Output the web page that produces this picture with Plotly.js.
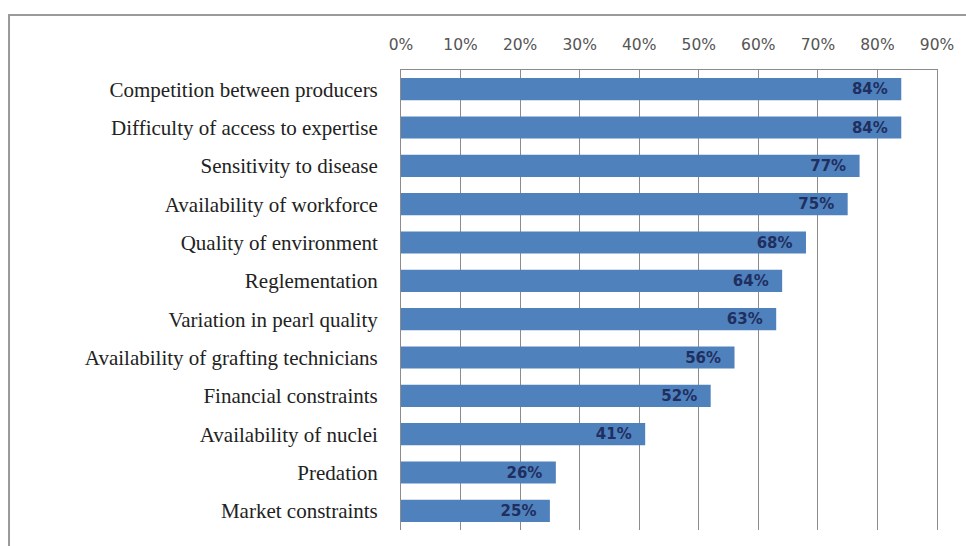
<!DOCTYPE html>
<html>
<head>
<meta charset="utf-8">
<script src="https://cdn.plot.ly/plotly-3.0.1.min.js"></script>
<style>
  html, body { margin: 0; padding: 0; background: #ffffff; }
  #chart { width: 966px; height: 546px; }
</style>
</head>
<body>
<div id="chart"></div>
<script>
const categories = [
  "Competition between producers",
  "Difficulty of access to expertise",
  "Sensitivity to disease",
  "Availability of workforce",
  "Quality of environment",
  "Reglementation",
  "Variation in pearl quality",
  "Availability of grafting technicians",
  "Financial constraints",
  "Availability of nuclei",
  "Predation",
  "Market constraints"
];
const values = [84, 84, 77, 75, 68, 64, 63, 56, 52, 41, 26, 25];
const tickValues = [0, 10, 20, 30, 40, 50, 60, 70, 80, 90];
const tickLabels = ["0%", "10%", "20%", "30%", "40%", "50%", "60%", "70%", "80%", "90%"];

const trace = {
  type: 'bar',
  orientation: 'h',
  y: categories,
  x: values,
  marker: { color: '#4F81BD', line: { width: 0 } },
  width: 0.58,
  texttemplate: '%{x}%\u00a0\u00a0',
  textposition: 'inside',
  insidetextanchor: 'end',
  textangle: 0,
  constraintext: 'none',
  textfont: { family: '"DejaVu Sans", sans-serif', size: 15, color: '#1F2F5F', weight: 'bold' },
  hoverinfo: 'none'
};

const layout = {
  width: 966,
  height: 546,
  margin: { l: 401, r: 29, t: 70, b: 16, pad: 0 },
  paper_bgcolor: '#ffffff',
  plot_bgcolor: '#ffffff',
  showlegend: false,
  xaxis: {
    side: 'top',
    range: [0, 90],
    tickvals: tickValues,
    ticktext: tickLabels,
    showgrid: true,
    gridcolor: '#8c8c8c',
    gridwidth: 1,
    zeroline: false,
    showline: true,
    linecolor: '#8c8c8c',
    linewidth: 1,
    ticks: '',
    ticklabelstandoff: 13,
    tickfont: { family: '"DejaVu Sans", sans-serif', size: 15.5, color: '#555555' },
    fixedrange: true
  },
  yaxis: {
    autorange: 'reversed',
    showline: true,
    mirror: true,
    linecolor: '#8c8c8c',
    linewidth: 1,
    showgrid: false,
    zeroline: false,
    ticks: '',
    ticklabelstandoff: 18,
    tickfont: { family: '"Liberation Serif", serif', size: 21, color: '#222222' },
    fixedrange: true
  },
  shapes: [{
    type: 'rect',
    xref: 'paper', yref: 'paper',
    x0: -0.7313, x1: 2, y0: -1, y1: 1.1196,
    line: { color: '#9a9a9a', width: 2 },
    fillcolor: 'rgba(0,0,0,0)',
    layer: 'below'
  }]
};

Plotly.newPlot('chart', [trace], layout, { displayModeBar: false, staticPlot: true });
</script>
</body>
</html>
